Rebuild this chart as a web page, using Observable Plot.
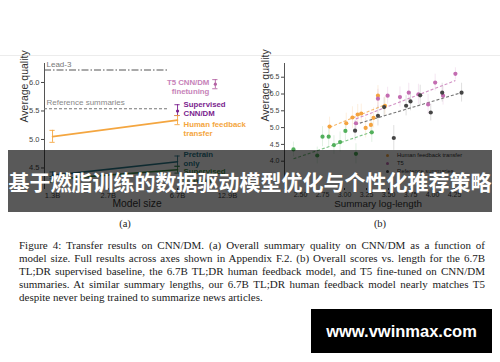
<!DOCTYPE html>
<html><head><meta charset="utf-8">
<script src="https://cdn.jsdelivr.net/npm/d3@7"></script>
<script src="https://cdn.jsdelivr.net/npm/@observablehq/plot@0.6"></script>
<style>
body{margin:0;background:#fff;}
#wrap{position:relative;width:500px;height:362px;overflow:hidden;background:#fff;font-family:"Liberation Sans",Arial,sans-serif;}
.abs{position:absolute;}
#topline{left:0;top:55px;width:500px;height:1px;background:#ececec;}
#charts svg{position:absolute;left:0;top:0;}
#legend{left:386px;top:151px;font-size:5.8px;color:#333;line-height:8px;}
#legend .row{display:flex;align-items:center;height:8px;}
#legend .sw{width:3px;height:3px;border-radius:50%;margin-right:8px;}
#banner{left:8px;top:150px;width:484px;height:62px;background:rgba(0,0,0,0.65);}
#bannerText{left:0;top:150px;width:500px;height:62px;line-height:62px;text-align:center;color:#fff;font-family:"Noto Sans CJK SC",sans-serif;font-weight:700;font-size:21px;white-space:nowrap;}
.sub{top:218px;font-family:"Liberation Serif","Times New Roman",serif;font-size:10.5px;color:#222;transform:translateX(-50%);}
#caption{left:19px;top:238.5px;width:466px;font-family:"Liberation Serif","Times New Roman",serif;font-size:11px;color:#222;}
#caption div{height:13.1px;line-height:13.1px;white-space:nowrap;text-align:justify;text-align-last:justify;}
#caption div.last{text-align:left;text-align-last:left;}
#wm{left:311px;top:309px;width:181px;height:44px;background:#000;color:#fff;font-weight:700;font-size:16.5px;line-height:44px;text-align:center;}
</style></head><body><div id="wrap">
<div id="topline" class="abs"></div>
<div id="charts"></div>
<div id="legend" class="abs"></div>
<div id="banner" class="abs"></div>
<div id="bannerText" class="abs"></div>
<div class="abs sub" style="left:125px">(a)</div>
<div class="abs sub" style="left:380px">(b)</div>
<div id="caption" class="abs"></div>
<div id="wm" class="abs"></div>
</div>
<script>
// ---------- Panel (a): quality vs model size ----------
const modelSizeTicks = [1.3, 2.7, 6.7, 12.9];
const lineSizes = [1.3, 6.7];
const humanFeedback = [5.05, 5.34];
const humanFeedbackLo = [4.95, 5.26];
const humanFeedbackHi = [5.16, 5.42];
const pretrainOnly = [4.37, 4.61];
const pretrainOnlyLo = [4.31, 4.53];
const pretrainOnlyHi = [4.43, 4.71];
const supervisedTransfer = [4.30, 4.47];
const supervisedTransferLo = [4.25, 4.41];
const supervisedTransferHi = [4.35, 4.53];
const t5Size = 11, t5Value = 5.97, t5Lo = 5.89, t5Hi = 6.05;
const supCnnSize = 6.7, supCnnValue = 5.50, supCnnLo = 5.42, supCnnHi = 5.61;
const lead3 = 6.22;
const referenceSummaries = 5.54;
const baselineSpan = [1.17, 6.0];
const labelTexts = ["T5 CNN/DM\nfinetuning", "Supervised\nCNN/DM", "Human feedback\ntransfer", "Pretrain\nonly", "Supervised\ntransfer"];
const labelSizes = [11, 6.7, 6.7, 6.7, 6.7];
const labelValues = [5.925, 5.535, 5.185, 4.667, 4.37];
const labelColors = ["#c783b9", "#7b1e8e", "#f4a640", "#2b7a8b", "#3f8f4a"];

// ---------- Panel (b): quality vs summary log-length ----------
const seriesNames = ["Human feedback transfer", "T5", "Reference summaries", "Supervised transfer"];
const seriesColors = ["#f4a33f", "#c36cb1", "#454545", "#52b05c"];
const hfX = [2.83, 3.02, 3.09, 3.15, 3.19, 3.24, 3.30, 3.33, 3.38, 3.46];
const hfY = [5.03, 5.13, 5.30, 5.39, 5.42, 4.99, 5.08, 5.29, 5.95, 5.65];
const hfErr = [0.28, 0.30, 0.32, 0.30, 0.28, 0.30, 0.32, 0.30, 0.30, 0.28];
const t5X = [3.13, 3.38, 3.49, 3.63, 3.73, 3.84, 3.95, 4.03, 4.12, 4.26];
const t5Y = [5.13, 5.86, 5.95, 5.91, 6.04, 5.99, 5.69, 6.34, 5.95, 6.60];
const t5Err = [0.30, 0.28, 0.25, 0.30, 0.28, 0.30, 0.30, 0.25, 0.28, 0.18];
const refX = [3.12, 3.38, 3.45, 3.56, 3.70, 3.75, 3.86, 3.98, 4.11, 4.33];
const refY = [4.91, 5.35, 5.61, 4.69, 5.65, 5.78, 5.96, 5.45, 6.04, 6.04];
const refErr = [0.30, 0.30, 0.28, 0.37, 0.30, 0.28, 0.30, 0.25, 0.28, 0.28];
const stX = [2.42, 2.69, 2.75, 2.82, 2.88, 2.95, 3.01, 3.13, 3.31];
const stY = [4.35, 4.17, 4.73, 4.73, 4.48, 4.57, 4.90, 4.22, 4.86];
const stErr = [0.22, 0.25, 0.30, 0.30, 0.28, 0.30, 0.30, 0.30, 0.30];
const fitX1 = [2.83, 3.13, 3.12, 2.42];
const fitY1 = [5.01, 5.26, 5.09, 4.07];
const fitX2 = [3.47, 4.26, 4.34, 3.32];
const fitY2 = [5.69, 6.40, 6.05, 4.88];
const logLengthTicks = [2.5, 2.75, 3.0, 3.25, 3.5, 3.75, 4.0, 4.25];
const qualityTicksA = [4.5, 5.0, 5.5, 6.0];
const qualityTicksB = [4.0, 4.5, 5.0, 5.5, 6.0, 6.5];

const bannerTitle = "基于燃脂训练的数据驱动模型优化与个性化推荐策略";
const captionLines = [
  "Figure 4: Transfer results on CNN/DM. (a) Overall summary quality on CNN/DM as a function of",
  "model size. Full results across axes shown in Appendix F.2. (b) Overall scores vs. length for the 6.7B",
  "TL;DR supervised baseline, the 6.7B TL;DR human feedback model, and T5 fine-tuned on CNN/DM",
  "summaries. At similar summary lengths, our 6.7B TL;DR human feedback model nearly matches T5",
  "despite never being trained to summarize news articles."
];
const watermark = "www.vwinmax.com";

// ---- build tables ----
const linesA = [];
[["hf", humanFeedback, humanFeedbackLo, humanFeedbackHi, "#f4a640"],
 ["pt", pretrainOnly, pretrainOnlyLo, pretrainOnlyHi, "#2b7a8b"],
 ["st", supervisedTransfer, supervisedTransferLo, supervisedTransferHi, "#3f8f4a"]].forEach(([k, v, lo, hi, c]) => {
  lineSizes.forEach((s, i) => linesA.push({series: k, size: s, value: v[i], lo: lo[i], hi: hi[i], color: c}));
});
const pointsA = [
  {series: "t5", size: t5Size, value: t5Value, lo: t5Lo, hi: t5Hi, color: "#b463a4"},
  {series: "sup", size: supCnnSize, value: supCnnValue, lo: supCnnLo, hi: supCnnHi, color: "#7b1e8e"}
];
const errA = linesA.concat(pointsA);
const labelsA = labelTexts.map((t, i) => ({text: t, size: labelSizes[i], value: labelValues[i], color: labelColors[i], anchor: i === 0 ? "end" : "start"}));

const pointsB = [];
[[hfX, hfY, hfErr, 0], [t5X, t5Y, t5Err, 1], [refX, refY, refErr, 2], [stX, stY, stErr, 3]].forEach(([xs, ys, es, k]) => {
  xs.forEach((x, i) => pointsB.push({x, y: ys[i], err: es[i], color: seriesColors[k]}));
});
const fitsB = fitX1.map((x, i) => ({x1: x, y1: fitY1[i], x2: fitX2[i], y2: fitY2[i], color: seriesColors[i]}));

const font = "'Liberation Sans', Arial, sans-serif";
const capF = 1.035;

const plotA = Plot.plot({
  width: 500, height: 215,
  marginLeft: 44, marginRight: 260, marginTop: 63, marginBottom: 27,
  style: {fontFamily: font, fontSize: "7.5px", color: "#444", background: "transparent"},
  x: {type: "log", domain: [1.17, 15.3]},
  y: {domain: [4.14, 6.333]},
  marks: [
    Plot.frame({anchor: "left", stroke: "#555"}),
    Plot.axisY({ticks: qualityTicksA, tickFormat: d3.format(".1f"), tickSize: 3, tickPadding: 2, label: null}),
    Plot.axisX({ticks: modelSizeTicks, tickFormat: d => d + "B", tickSize: 2, tickPadding: 2, label: null}),
    Plot.text(["Average quality"], {frameAnchor: "left", rotate: -90, dx: -20, dy: -3.5, fontSize: 10.5, fill: "#333"}),
    Plot.text(["Model size"], {frameAnchor: "bottom", dx: -5.5, dy: 18.7, fontSize: 10.3, fill: "#333"}),
    Plot.ruleY([lead3], {x1: baselineSpan[0], x2: baselineSpan[1], stroke: "#555", strokeWidth: 1.1, strokeDasharray: "7,2,1.5,2"}),
    Plot.ruleY([referenceSummaries], {x1: baselineSpan[0], x2: baselineSpan[1], stroke: "#777", strokeWidth: 1.1, strokeDasharray: "3,2"}),
    Plot.text([lead3], {x: baselineSpan[0], y: d => d, text: ["Lead-3"], dx: 2, dy: -6, textAnchor: "start", fill: "#777", fontSize: 8}),
    Plot.text([referenceSummaries], {x: baselineSpan[0], y: d => d, text: ["Reference summaries"], dx: 2, dy: -6, textAnchor: "start", fill: "#888", fontSize: 8}),
    Plot.line(linesA, {x: "size", y: "value", z: "series", stroke: "color", strokeWidth: 1.6}),
    Plot.ruleX(errA, {x: "size", y1: "lo", y2: "hi", stroke: "color", strokeWidth: 0.9}),
    Plot.ruleY(errA, {y: "lo", x1: d => d.size / capF, x2: d => d.size * capF, stroke: "color", strokeWidth: 0.9}),
    Plot.ruleY(errA, {y: "hi", x1: d => d.size / capF, x2: d => d.size * capF, stroke: "color", strokeWidth: 0.9}),
    Plot.dot(pointsA, {x: "size", y: "value", fill: "color", r: 1.6}),
    Plot.text(labelsA.filter(d => d.anchor === "start"), {x: "size", y: "value", text: "text", fill: "color", textAnchor: "start", dx: 6, fontSize: 7.8, fontWeight: "bold", lineHeight: 1.15}),
    Plot.text(labelsA.filter(d => d.anchor === "end"), {x: "size", y: "value", text: "text", fill: "color", textAnchor: "end", dx: -6, fontSize: 7.8, fontWeight: "bold", lineHeight: 1.15})
  ]
});

const plotB = Plot.plot({
  width: 500, height: 215,
  marginLeft: 284, marginRight: 29, marginTop: 63, marginBottom: 27,
  style: {fontFamily: font, fontSize: "7px", color: "#444", background: "transparent"},
  x: {domain: [2.318, 4.443]},
  y: {domain: [3.1875, 6.908]},
  marks: [
    Plot.frame({anchor: "left", stroke: "#555"}),
    Plot.axisY({ticks: qualityTicksB, tickFormat: d3.format(".1f"), tickSize: 3, tickPadding: 2, label: null}),
    Plot.axisX({ticks: logLengthTicks, tickFormat: d3.format(".2f"), tickSize: 2, tickPadding: 2, label: null}),
    Plot.text(["Average quality"], {frameAnchor: "left", rotate: -90, dx: -19, dy: -4.5, fontSize: 10.5, fill: "#333"}),
    Plot.text(["Summary log-length"], {frameAnchor: "bottom", dy: 18.5, fontSize: 9.8, fill: "#333"}),
    Plot.ruleX(pointsB, {x: "x", y1: d => d.y - d.err, y2: d => d.y + d.err, stroke: "color", strokeOpacity: 0.22, strokeWidth: 0.8}),
    Plot.link(fitsB, {x1: "x1", y1: "y1", x2: "x2", y2: "y2", stroke: "color", strokeOpacity: 0.75, strokeWidth: 1.1, strokeDasharray: "3,2"}),
    Plot.dot(pointsB, {x: "x", y: "y", fill: "color", r: 2.1})
  ]
});

document.getElementById("charts").append(plotA, plotB);

const legend = document.getElementById("legend");
seriesNames.slice(0, 3).forEach((n, i) => {
  const row = document.createElement("div"); row.className = "row";
  const sw = document.createElement("span"); sw.className = "sw"; sw.style.background = seriesColors[i];
  const t = document.createElement("span"); t.textContent = n;
  row.append(sw, t); legend.append(row);
});
document.getElementById("bannerText").textContent = bannerTitle;
const cap = document.getElementById("caption");
captionLines.forEach((l, i) => {
  const d = document.createElement("div"); d.textContent = l;
  if (i === captionLines.length - 1) d.className = "last";
  cap.append(d);
});
document.getElementById("wm").textContent = watermark;
</script></body></html>
